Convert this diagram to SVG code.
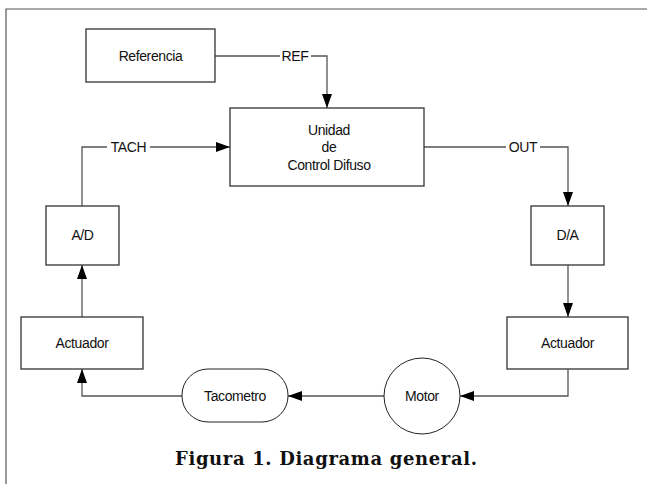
<svg xmlns="http://www.w3.org/2000/svg" width="647" height="484" viewBox="0 0 647 484">
<style>
.box{fill:#fff;stroke:#333;stroke-width:1.3}
.shape{fill:#fff;stroke:#222;stroke-width:1}
.lbl{font-family:"Liberation Sans",Arial,sans-serif;font-size:14px;fill:#111;text-anchor:middle;letter-spacing:-0.4px}
.wire{fill:none;stroke:#555;stroke-width:1.3}
.frame{fill:none;stroke:#555;stroke-width:1.2}
.cap{font-family:"DejaVu Serif","Liberation Serif",serif;font-weight:bold;font-size:18px;fill:#111;text-anchor:middle}
</style>
<defs>
<marker id="arr" viewBox="0 0 14 10" refX="14" refY="5" markerWidth="14" markerHeight="10" markerUnits="userSpaceOnUse" orient="auto">
<path d="M0,0 L14,5 L0,10 z" fill="#000"/>
</marker>
</defs>
<rect width="647" height="484" fill="#fff"/>
<path class="frame" d="M6,484 V9 H647"/>

<g id="connectors">
<path class="wire" d="M215,56 H280"/>
<text class="lbl" x="295" y="61">REF</text>
<path class="wire" d="M311,56 H327 V108" marker-end="url(#arr)"/>

<path class="wire" d="M82,206 V147 H107"/>
<text class="lbl" x="128.5" y="152">TACH</text>
<path class="wire" d="M150,147 H230" marker-end="url(#arr)"/>

<path class="wire" d="M424,147 H506"/>
<text class="lbl" x="523" y="152">OUT</text>
<path class="wire" d="M540,147 H568 V206" marker-end="url(#arr)"/>

<path class="wire" d="M568,265 V317" marker-end="url(#arr)"/>
<path class="wire" d="M568,369 V396 H460" marker-end="url(#arr)"/>
<path class="wire" d="M384,396 H288" marker-end="url(#arr)"/>
<path class="wire" d="M182,396 H82 V369" marker-end="url(#arr)"/>
<path class="wire" d="M82,317 V265" marker-end="url(#arr)"/>
</g>

<g id="referencia">
<rect class="box" x="86" y="29" width="129" height="53"/>
<text class="lbl" x="150.5" y="61">Referencia</text>
</g>
<g id="unidad">
<rect class="box" x="230" y="108" width="194" height="78"/>
<text class="lbl" x="329" y="135">Unidad</text>
<text class="lbl" x="329" y="152">de</text>
<text class="lbl" x="329" y="170">Control Difuso</text>
</g>
<g id="ad">
<rect class="box" x="46" y="206" width="73" height="59"/>
<text class="lbl" x="82.5" y="240">A/D</text>
</g>
<g id="da">
<rect class="box" x="531" y="206" width="73" height="59"/>
<text class="lbl" x="567.5" y="240">D/A</text>
</g>
<g id="actuador-izq">
<rect class="box" x="21" y="317" width="122" height="52"/>
<text class="lbl" x="82" y="348">Actuador</text>
</g>
<g id="actuador-der">
<rect class="box" x="507" y="317" width="121" height="52"/>
<text class="lbl" x="567.5" y="348">Actuador</text>
</g>
<g id="motor">
<circle class="shape" cx="422" cy="396" r="38"/>
<text class="lbl" x="422" y="401">Motor</text>
</g>
<g id="tacometro">
<rect class="shape" x="182" y="369" width="106" height="53" rx="26" ry="26"/>
<text class="lbl" x="235" y="401">Tacometro</text>
</g>

<text class="cap" x="326" y="465" textLength="302" lengthAdjust="spacing">Figura 1. Diagrama general.</text>
</svg>
